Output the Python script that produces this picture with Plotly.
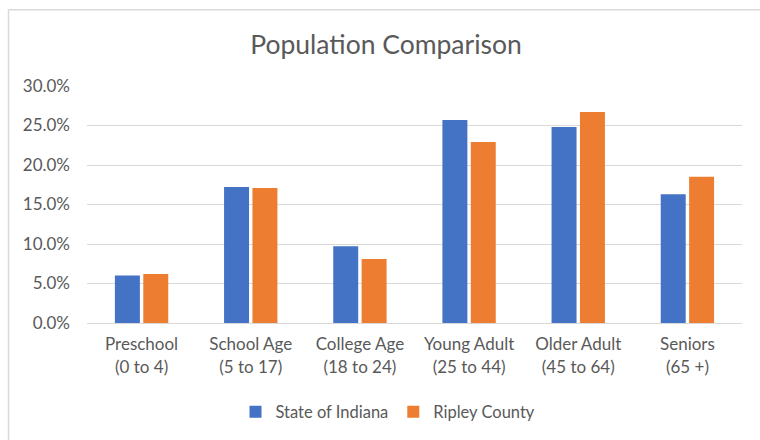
import plotly.graph_objects as go

categories = ["Preschool<br>(0 to 4)", "School Age<br>(5 to 17)", "College Age<br>(18 to 24)",
              "Young Adult<br>(25 to 44)", "Older Adult<br>(45 to 64)", "Seniors<br>(65 +)"]
indiana = [0.060, 0.172, 0.097, 0.257, 0.248, 0.163]
ripley = [0.062, 0.171, 0.081, 0.229, 0.267, 0.185]
series_names = ["State of Indiana", "Ripley County"]
colors = ["#4472C4", "#ED7D31"]
y_ticks = [0, 0.05, 0.10, 0.15, 0.20, 0.25, 0.30]

FONT = "Lato"
GREY = "#595959"

fig = go.Figure()
for name, vals, col in zip(series_names, [indiana, ripley], colors):
    fig.add_trace(go.Bar(x=categories, y=vals, name=name, marker=dict(color=col, line=dict(width=0))))

L, R, T, B = 87, 18, 86, 116
W, H = 760, 440
pw, ph = W - L - R, H - T - B

fig.update_layout(
    width=W, height=H,
    margin=dict(l=L, r=R, t=T, b=B),
    paper_bgcolor="white", plot_bgcolor="white",
    barmode="group", bargap=0.48, bargroupgap=0.12,
    font=dict(family=FONT, color=GREY, size=17),
    title=dict(text="Population Comparison", x=386 / W, xanchor="center",
               y=1 - 45 / H, yanchor="middle", font=dict(size=26.5, color=GREY, family=FONT)),
    showlegend=True,
    legend=dict(orientation="h", x=(388 - L) / pw, xanchor="center", y=(T + ph - 412) / ph, yanchor="middle",
                font=dict(size=16.5, color=GREY, family=FONT), traceorder="normal"),
    xaxis=dict(showgrid=False, showline=True, linecolor="#D9D9D9", linewidth=1, ticks="",
               ticklabelstandoff=6, tickfont=dict(size=17, color=GREY)),
    yaxis=dict(range=[0, 0.30], tickvals=y_ticks, tickformat=".1%", showgrid=True, gridcolor="#D9D9D9",
               gridwidth=1, zeroline=False, showline=False, ticks="", ticklabelstandoff=16,
               tickfont=dict(size=17, color=GREY)),
    shapes=[
        dict(type="line", xref="paper", yref="paper", x0=(8.5 - L) / pw, x1=(8.5 - L) / pw,
             y0=(T + ph - H - 5) / ph, y1=1 + (T - 9.5) / ph, line=dict(color="#D9D9D9", width=1.5)),
        dict(type="line", xref="paper", yref="paper", x0=(8.5 - L) / pw, x1=(W + 5 - L) / pw,
             y0=1 + (T - 9.5) / ph, y1=1 + (T - 9.5) / ph, line=dict(color="#D9D9D9", width=1.5)),
    ],
)

fig.write_html("out.html")
